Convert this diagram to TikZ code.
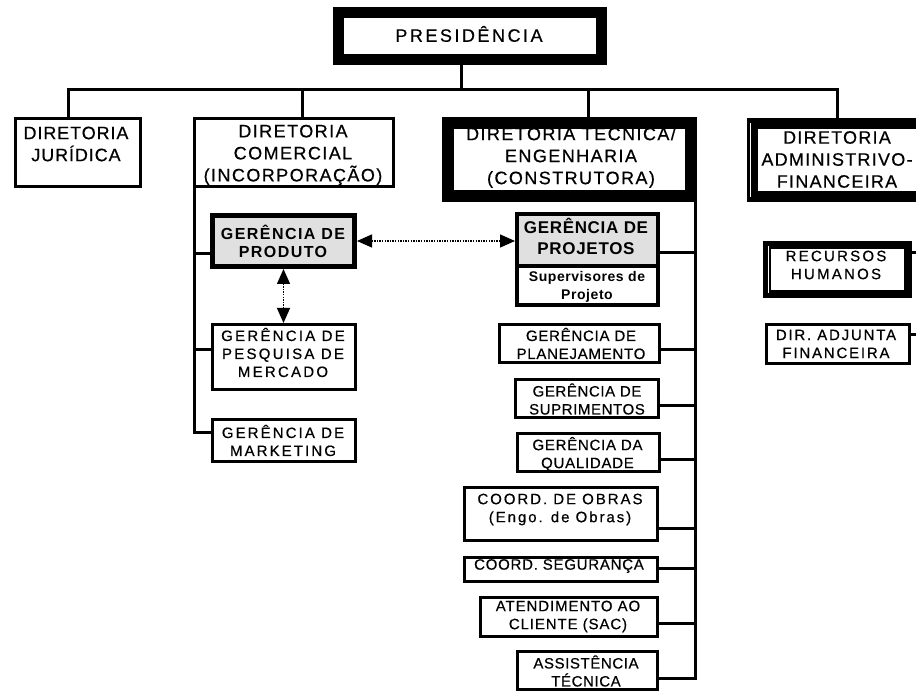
\documentclass[tikz,border=0pt]{standalone}
\usepackage{fontspec}
\setmainfont{Liberation Sans}
\usetikzlibrary{arrows.meta}
\tikzset{
  bx/.style={draw=black, line width=3pt, inner sep=0pt, fill=white},
  conn/.style={draw=black, line width=3pt},
  darr/.style={draw=black, line width=1.3pt, dash pattern=on 1.3pt off 1.3pt,
    arrows={Triangle[length=15pt,width=13pt]-Triangle[length=15pt,width=13pt]}},
  lbl/.style={inner sep=0pt, align=center, text=black},
  dirtxt/.style={lbl, font={\fontsize{18}{22}\selectfont\addfontfeatures{LetterSpace=#1,FakeBold=0.5}}},
  gtxt/.style={lbl, font={\fontsize{15}{18}\selectfont\addfontfeatures{LetterSpace=#1,FakeBold=0.5}}},
  gbold/.style={lbl, font={\fontsize{16}{18}\selectfont\bfseries\addfontfeatures{LetterSpace=#1}}},
  pbold/.style={lbl, font={\fontsize{17}{21}\selectfont\bfseries\addfontfeatures{LetterSpace=#1}}},
  stxt/.style={lbl, font={\fontsize{14}{18}\selectfont\bfseries\addfontfeatures{LetterSpace=#1}}},
  grayfill/.style={fill=black!12},
}
\begin{document}
\begin{tikzpicture}[x=1pt,y=-1pt]
\useasboundingbox (0,0) rectangle (916,692);
\clip (0,0) rectangle (916,692);
\fill[white] (0,0) rectangle (916,692);

% boxes
\node[bx, line width=11pt, minimum width=263pt, minimum height=47pt] (pres) at (470,36) {};
\node[bx, minimum width=125pt, minimum height=68pt] (jur) at (78,152.5) {};
\node[bx, minimum width=199pt, minimum height=68pt] (com) at (294,152.5) {};
\node[bx, line width=12pt, minimum width=243pt, minimum height=73pt] (tec) at (569.5,159.5) {};
\node[bx, line width=11pt, minimum width=169pt, minimum height=73pt] (adm) at (837,160) {};
\node[bx, line width=5pt, grayfill, minimum width=142pt, minimum height=51pt] (prod) at (283.5,241) {};
\node[bx, minimum width=143pt, minimum height=65pt] (pesq) at (284,357) {};
\node[bx, minimum width=143pt, minimum height=42pt] (mkt) at (284,440.5) {};
\node[bx, line width=4pt, minimum width=141pt, minimum height=38.5pt] (projS) at (587.5,285.75) {};
\node[bx, line width=4pt, grayfill, minimum width=141pt, minimum height=52.5pt] (projT) at (587.5,240.25) {};
\node[bx, minimum width=160pt, minimum height=38pt] (plan) at (579.5,343.5) {};
\node[bx, minimum width=143pt, minimum height=38pt] (supr) at (587,398.5) {};
\node[bx, minimum width=142pt, minimum height=38pt] (qual) at (588.5,452.5) {};
\node[bx, minimum width=193pt, minimum height=53pt] (obras) at (561,514) {};
\node[bx, minimum width=193pt, minimum height=24pt] (seg) at (561,569.5) {};
\node[bx, minimum width=177pt, minimum height=39pt] (aten) at (569,617) {};
\node[bx, minimum width=140pt, minimum height=38pt] (assist) at (587.5,670.5) {};
\node[bx, line width=8pt, minimum width=141pt, minimum height=49pt] (rh) at (837.5,269.5) {};
\node[bx, minimum width=143pt, minimum height=39pt] (adj) at (838,344) {};

% thin white inner lines (double border effect)
\draw[white, line width=1.5pt] (750.5,123) -- (750.5,197);
\draw[white, line width=1.5pt] (768.5,246) -- (768.5,293);

% top bus
\coordinate (bp) at (461,90);
\coordinate (b1) at (68,90);
\coordinate (b2) at (302,90);
\coordinate (b3) at (588,90);
\coordinate (b4) at (837,90);
\draw[conn] (b1 |- jur.north) -- (b1) -- (b4) -- (b4 |- adm.north);
\draw[conn] (bp |- pres.south) -- (bp);
\draw[conn] (b2) -- (b2 |- com.north);
\draw[conn] (b3) -- (b3 |- tec.north);

% commercial trunk
\coordinate (cx) at (194,0);
\coordinate (c1) at (194,254);
\coordinate (c2) at (194,350);
\coordinate (c3) at (194,433);
\draw[conn] (cx |- com.south) -- (c3) -- (c3 -| mkt.west);
\draw[conn] (c1) -- (c1 -| prod.west);
\draw[conn] (c2) -- (c2 -| pesq.west);

% technical trunk
\coordinate (tx) at (695,0);
\coordinate (t1) at (695,253);
\coordinate (t2) at (695,350);
\coordinate (t3) at (695,406);
\coordinate (t4) at (695,460);
\coordinate (t5) at (695,528);
\coordinate (t6) at (695,568);
\coordinate (t7) at (695,623);
\coordinate (t8) at (695,678);
\draw[conn] (tx |- tec.south) -- (t8) -- (t8 -| assist.east);
\draw[conn] (t1) -- (t1 -| projT.east);
\draw[conn] (t2) -- (t2 -| plan.east);
\draw[conn] (t3) -- (t3 -| supr.east);
\draw[conn] (t4) -- (t4 -| qual.east);
\draw[conn] (t5) -- (t5 -| obras.east);
\draw[conn] (t6) -- (t6 -| seg.east);
\draw[conn] (t7) -- (t7 -| aten.east);

% admin side (off to the right)
\coordinate (r1) at (916,253);
\coordinate (r2) at (916,335);
\draw[conn] (r1 -| rh.east) -- (r1);
\draw[conn] (r2 -| adj.east) -- (r2);

% dotted arrows
\draw[darr] (prod.east) -- (prod.east -| projT.west);
\draw[darr] (prod.south) -- (prod.south |- pesq.north);

% texts
\node[dirtxt=14] (t-pres) at (469,34) {PRESIDÊNCIA};
\node[dirtxt=5] (t-jur) at (76,144) {DIRETORIA\\JURÍDICA};
\node[dirtxt=8] (t-com) at (293,155) {DIRETORIA\\COMERCIAL\\(INCORPORAÇÃO)};
\node[dirtxt=8] (t-tec) at (571,157.5) {DIRETORIA TECNICA/\\ENGENHARIA\\(CONSTRUTORA)};
\node[dirtxt=7] (t-adm) at (837,159.5) {DIRETORIA\\ADMINISTRIVO-\\FINANCEIRA};
\node[gbold=9] (t-prod) at (283,241) {GERÊNCIA DE\\PRODUTO};
\node[gtxt=15] (t-pesq) at (283,352.5) {GERÊNCIA DE\\PESQUISA DE\\MERCADO};
\node[gtxt=14] (t-mkt) at (283,440.5) {GERÊNCIA DE\\MARKETING};
\node[pbold=4] (t-projT) at (586,236.5) {GERÊNCIA DE\\PROJETOS};
\node[stxt=4] (t-projS) at (587,287) {Supervisores de\\Projeto};
\node[gtxt=5] (t-plan) at (581,343.5) {GERÊNCIA DE\\PLANEJAMENTO};
\node[gtxt=4] (t-supr) at (587,399) {GERÊNCIA DE\\SUPRIMENTOS};
\node[gtxt=5] (t-qual) at (587.5,454) {GERÊNCIA DA\\QUALIDADE};
\node[gtxt=13] (t-obras) at (560,509.5) {COORD. DE OBRAS\\(Engo. de Obras)};
\node[gtxt=5] (t-seg) at (559,566) {COORD. SEGURANÇA};
\node[gtxt=6] (t-aten) at (568,616.5) {ATENDIMENTO AO\\CLIENTE (SAC)};
\node[gtxt=4] (t-assist) at (586,671) {ASSISTÊNCIA\\TÉCNICA};
\node[gtxt=15] (t-rh) at (836,265) {RECURSOS\\HUMANOS};
\node[gtxt=12] (t-adj) at (836,344) {DIR. ADJUNTA\\FINANCEIRA};
\end{tikzpicture}
\end{document}
